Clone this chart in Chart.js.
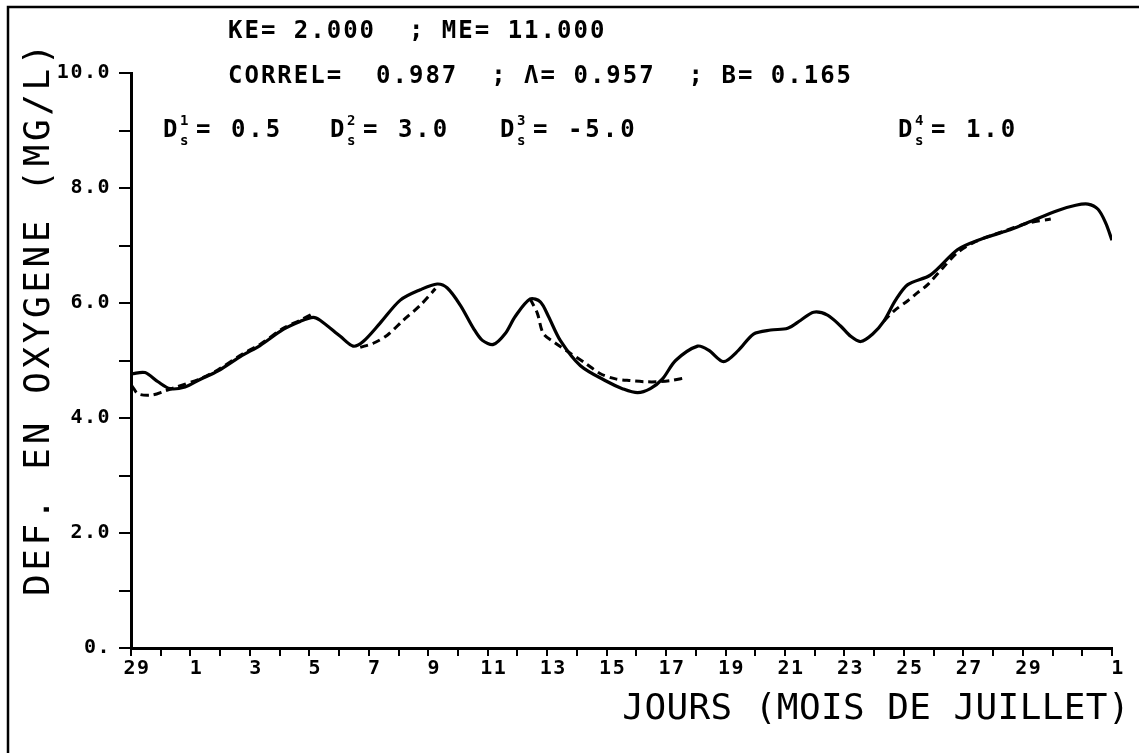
<!DOCTYPE html>
<html>
<head>
<meta charset="utf-8">
<script src="https://cdn.jsdelivr.net/npm/chart.js@4/dist/chart.umd.min.js"></script>
<style>
html,body{margin:0;padding:0;background:#fff;overflow:hidden}
#wrap{width:1139px;height:753px;position:relative}
</style>
</head>
<body>
<div id="wrap"><canvas id="c" width="1139" height="753"></canvas></div>
<script>
// Day index: 0 = 29 June, 2 = 1 July, ..., 33 = 1 August
const xTickLabels = ['29','','1','','3','','5','','7','','9','','11','','13','','15','','17','','19','','21','','23','','25','','27','','29','','','1'];
const yTickLabels = ['0.','','2.0','','4.0','','6.0','','8.0','','10.0'];

const solidDays = [0.03,0.47,0.91,1.31,1.82,2.32,2.93,3.74,4.34,5.12,5.69,6.13,6.36,7.04,7.47,7.81,8.38,9.06,9.73,10.30,10.64,11.08,11.52,11.82,12.19,12.59,12.93,13.43,13.77,14.04,14.44,15.12,16.03,16.53,17.04,17.47,17.88,18.32,19.06,19.43,19.93,20.44,20.94,21.52,22.09,22.53,22.96,23.43,23.87,24.21,24.55,24.95,25.32,25.72,26.13,26.90,27.81,28.59,29.49,30.17,31.18,31.78,32.19,32.53,32.79,33.0];
const solidDef  = [4.77,4.79,4.63,4.51,4.54,4.67,4.82,5.09,5.26,5.54,5.68,5.75,5.70,5.42,5.25,5.33,5.65,6.05,6.23,6.33,6.26,5.96,5.56,5.35,5.28,5.47,5.77,6.07,6.02,5.77,5.35,4.91,4.63,4.51,4.44,4.51,4.68,5.00,5.25,5.18,4.98,5.18,5.46,5.53,5.56,5.70,5.84,5.79,5.60,5.42,5.33,5.46,5.68,6.05,6.32,6.49,6.93,7.11,7.26,7.40,7.61,7.70,7.72,7.63,7.39,7.09];

const fit1Days = [0.03,0.24,0.71,1.14,1.48,2.32,2.93,3.74,4.34,5.12,5.69,6.13];
const fit1Def  = [4.56,4.42,4.40,4.47,4.53,4.68,4.84,5.11,5.28,5.56,5.70,5.82];
const fit2Days = [7.71,8.15,8.62,9.16,9.73,10.24];
const fit2Def  = [5.23,5.30,5.44,5.70,5.96,6.25];
const fit3Days = [13.43,13.67,13.87,14.28,14.68,15.29,15.79,16.30,16.80,17.31,17.71,18.15,18.65];
const fit3Def  = [6.07,5.82,5.47,5.30,5.16,4.95,4.77,4.68,4.65,4.63,4.63,4.65,4.70];
const fit4Days = [25.32,25.66,26.13,26.46,26.80,27.31,27.81,28.42,29.26,30.17,30.94];
const fit4Def  = [5.68,5.86,6.04,6.18,6.32,6.61,6.88,7.07,7.23,7.39,7.46];

const headerLine1 = 'KE= 2.000  ; ME= 11.000';
const headerLine2 = 'CORREL=  0.987  ; \u039B= 0.957  ; B= 0.165';
const dsIndices = ['1','2','3','4'];
const dsValues = ['= 0.5','= 3.0','= -5.0','= 1.0'];
const yTitle = 'DEF. EN OXYGENE (MG/L)';
const xTitle = 'JOURS (MOIS DE JUILLET)';

const pts = (xs, ys) => xs.map((x, i) => ({x: x, y: ys[i]}));
const MONO = '"DejaVu Sans Mono", "Liberation Mono", monospace';

const solidStyle = {borderColor:'#000', borderWidth:3.2, pointRadius:0, tension:0.3, fill:false};
const dashStyle = {borderColor:'#000', borderWidth:3, borderDash:[8,5], pointRadius:0, tension:0.3, fill:false};

function drawText(c, s, x, y, font, spacing, align) {
  c.font = font;
  c.letterSpacing = spacing + 'px';
  c.textAlign = align || 'left';
  c.textBaseline = 'middle';
  c.fillText(s, x, y);
}

const decor = {
  id: 'decor',
  beforeDraw(chart) {
    const c = chart.ctx;
    c.save();
    c.fillStyle = '#fff';
    c.fillRect(0, 0, chart.width, chart.height);
    c.strokeStyle = '#000';
    c.lineWidth = 2.5;
    c.beginPath();
    c.moveTo(8, 753);
    c.lineTo(8, 7);
    c.lineTo(1139, 7);
    c.stroke();
    c.restore();
    c.letterSpacing = '1.5px';
  },
  afterDraw(chart) {
    const c = chart.ctx;
    c.save();
    c.fillStyle = '#000';
    const f = 'bold 24px ' + MONO;
    drawText(c, headerLine1, 228, 32, f, 2);
    drawText(c, headerLine2, 228, 77, f, 2);
    const dx = [163, 330, 500, 898];
    dx.forEach((x, i) => {
      drawText(c, 'D', x, 131, f, 0);
      drawText(c, dsIndices[i], x + 17, 121, 'bold 14px ' + MONO, 0);
      drawText(c, 's', x + 17, 141, 'bold 14px ' + MONO, 0);
      drawText(c, dsValues[i], x + 33, 131, f, 3);
    });
    // axis titles
    drawText(c, xTitle, 1130, 710, '36px ' + MONO, 0.4, 'right');
    c.translate(40, 318);
    c.rotate(-Math.PI / 2);
    drawText(c, yTitle, 0, 0, '36px ' + MONO, 3.6, 'center');
    c.restore();
  }
};

new Chart(document.getElementById('c').getContext('2d'), {
  type: 'line',
  data: {
    datasets: [
      Object.assign({label: 'Déficit', data: pts(solidDays, solidDef)}, solidStyle),
      Object.assign({label: 'D1', data: pts(fit1Days, fit1Def)}, dashStyle),
      Object.assign({label: 'D2', data: pts(fit2Days, fit2Def)}, dashStyle),
      Object.assign({label: 'D3', data: pts(fit3Days, fit3Def)}, dashStyle),
      Object.assign({label: 'D4', data: pts(fit4Days, fit4Def)}, dashStyle)
    ]
  },
  options: {
    responsive: false,
    animation: false,
    events: [],
    layout: {padding: {top: 73, right: 27, left: 0, bottom: 0}},
    plugins: {legend: {display: false}, tooltip: {enabled: false}},
    scales: {
      x: {
        type: 'linear', min: 0, max: xTickLabels.length - 1,
        afterFit(s) { s.height = 105; },
        afterBuildTicks(s) { s.ticks = xTickLabels.map((_, i) => ({value: i})); },
        ticks: {
          autoSkip: false, maxRotation: 0, minRotation: 0, labelOffset: 6, padding: 1,
          color: '#000', font: {family: MONO, weight: 'bold', size: 20},
          callback: (v) => xTickLabels[v] ?? ''
        },
        grid: {drawOnChartArea: false, drawTicks: true, tickLength: 8, color: '#000', lineWidth: 2},
        border: {display: true, color: '#000', width: 3}
      },
      y: {
        type: 'linear', min: 0, max: yTickLabels.length - 1,
        afterFit(s) { s.width = 131; },
        afterBuildTicks(s) { s.ticks = yTickLabels.map((_, i) => ({value: i})); },
        ticks: {
          autoSkip: false, padding: 8,
          color: '#000', font: {family: MONO, weight: 'bold', size: 20},
          callback: (v) => yTickLabels[v] ?? ''
        },
        grid: {drawOnChartArea: false, drawTicks: true, tickLength: 12, color: '#000', lineWidth: 2},
        border: {display: true, color: '#000', width: 3}
      }
    }
  },
  plugins: [decor]
});
</script>
</body>
</html>
